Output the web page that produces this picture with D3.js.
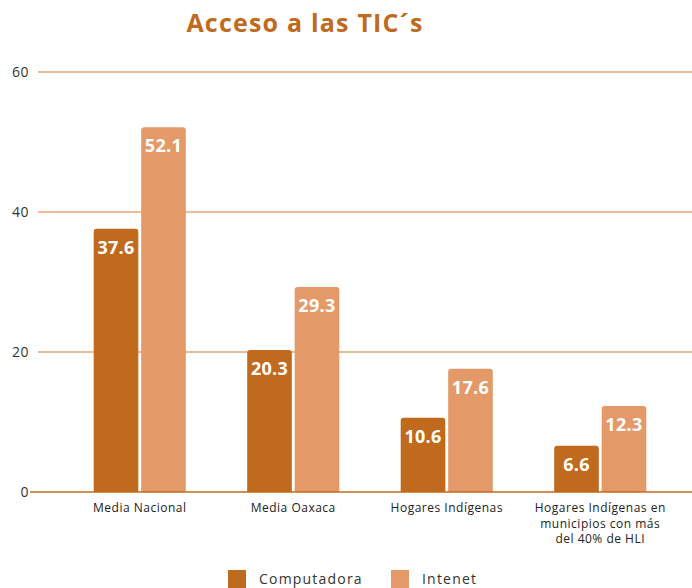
<!DOCTYPE html>
<head>
<meta charset="utf-8">
<script src="https://cdn.jsdelivr.net/npm/d3@7"></script>
<style>
body { margin:0; background:#fff; font-family:"Open Sans", sans-serif; }
.tick text { fill:#333; }
</style>
</head>
<body>
<div id="chart"></div>
<script>
// data
let categories = ["Media Nacional", "Media Oaxaca", "Hogares Indígenas", "Hogares Indígenas en municipios con más del 40% de HLI"];
let catLines = [["Media Nacional"], ["Media Oaxaca"], ["Hogares Indígenas"], ["Hogares Indígenas en", "municipios con más", "del 40% de HLI"]];
let seriesNames = ["Computadora", "Intenet"];
let computadora = [37.6, 20.3, 10.6, 6.6];
let internet = [52.1, 29.3, 17.6, 12.3];
let yTicks = [0, 20, 40, 60];
let colors = ["#c06a1e", "#e39a68"];

let W = 692, H = 588;
let svg = d3.select("#chart").append("svg").attr("width", W).attr("height", H);

let x0 = d3.scaleBand().domain(categories).range([63, 677]).paddingInner(0.4).paddingOuter(0.2),
    x1 = d3.scaleBand().domain(seriesNames).range([0, x0.bandwidth()]).paddingInner(0.06),
    y = d3.scaleLinear().domain([0, 60]).range([492, 72]);

// title
svg.append("text")
    .attr("x", 305).attr("y", 32)
    .attr("text-anchor", "middle")
    .attr("fill", "#c06a1e")
    .attr("font-size", 25).attr("font-weight", "bold")
    .attr("letter-spacing", 1.2)
    .text("Acceso a las TIC´s");

// grid
svg.append("g").selectAll("line")
    .data(yTicks.filter(d => d > 0))
  .enter().append("line")
    .attr("x1", 38).attr("x2", W)
    .attr("y1", d => y(d)).attr("y2", d => y(d))
    .attr("stroke", "#e8a67a").attr("stroke-width", 1.3);

let yAxis = svg.append("g")
    .attr("transform", "translate(30,0)")
    .call(d3.axisLeft(y).tickValues(yTicks).tickSize(0).tickPadding(1));
yAxis.select(".domain").remove();
yAxis.selectAll("text").attr("font-size", 14).attr("font-family", "Open Sans").attr("letter-spacing", 0.5);

// bars
let rows = categories.map((c, i) => ({cat: c, vals: [computadora[i], internet[i]]}));
let groups = svg.selectAll("g.layer").data(rows)
  .enter().append("g")
    .attr("class", "layer")
    .attr("transform", d => "translate(" + x0(d.cat) + ",0)");

let cells = groups.selectAll("g.cell")
    .data(d => d.vals.map((v, j) => ({key: seriesNames[j], value: v, j: j})))
  .enter().append("g").attr("class", "cell");

cells.append("path")
    .attr("fill", d => colors[d.j])
    .attr("d", d => {
      let bx = x1(d.key), bw = x1.bandwidth(), top = y(d.value), bot = y(0), r = 3;
      return "M" + bx + "," + bot + "V" + (top + r) + "Q" + bx + "," + top + " " + (bx + r) + "," + top +
             "H" + (bx + bw - r) + "Q" + (bx + bw) + "," + top + " " + (bx + bw) + "," + (top + r) + "V" + bot + "Z";
    });

cells.append("text")
    .attr("x", d => x1(d.key) + x1.bandwidth() / 2)
    .attr("y", d => y(d.value) + 25)
    .attr("text-anchor", "middle")
    .attr("fill", "#fff")
    .attr("font-size", 18).attr("font-weight", "bold")
    .attr("letter-spacing", 0.3)
    .text(d => d.value);

// zero line
svg.append("line")
    .attr("x1", 30).attr("x2", W)
    .attr("y1", y(0)).attr("y2", y(0))
    .attr("stroke", "#c06a1e").attr("stroke-width", 1.5);

// category labels
let catText = svg.append("g").selectAll("text")
    .data(categories)
  .enter().append("text")
    .attr("x", d => x0(d) + x0.bandwidth() / 2)
    .attr("y", 512)
    .attr("text-anchor", "middle")
    .attr("font-size", 12)
    .attr("letter-spacing", 0.5)
    .attr("fill", "#222");
catText.selectAll("tspan")
    .data((d, i) => catLines[i])
  .enter().append("tspan")
    .attr("x", function() { return d3.select(this.parentNode).attr("x"); })
    .attr("dy", (d, i) => i ? 15.5 : 0)
    .text(d => d);

// legend
let legend = svg.append("g").selectAll("g")
    .data(seriesNames)
  .enter().append("g")
    .attr("transform", (d, i) => "translate(" + [228, 391][i] + ",570)");
legend.append("rect")
    .attr("width", 18).attr("height", 18)
    .attr("fill", (d, i) => colors[i]);
legend.append("text")
    .attr("x", 31).attr("y", 14)
    .attr("font-size", 14)
    .attr("fill", "#333")
    .attr("letter-spacing", 1.2)
    .text(d => d);
</script>
</body>
